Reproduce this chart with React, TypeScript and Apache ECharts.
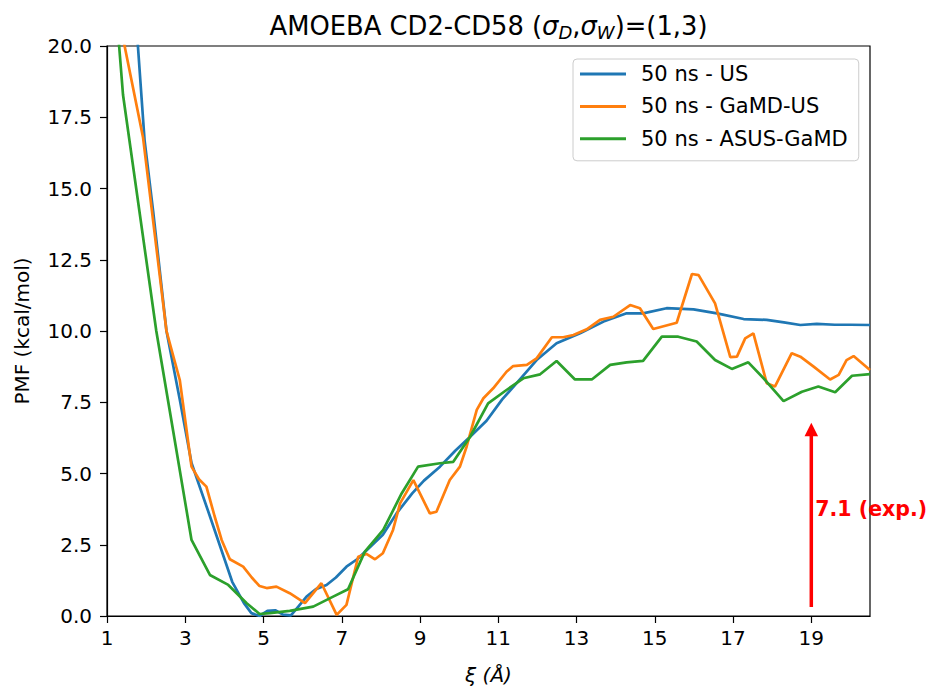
import React, { useEffect, useRef } from "react";
import * as echarts from "echarts";

// PMF profiles along the separation coordinate ξ (Å), kcal/mol
const usX = [1.7, 1.79, 1.96, 2.18, 2.52, 2.86, 3.16, 3.63, 4.2, 4.5, 4.69, 4.9, 5.1, 5.3, 5.5, 5.7, 5.9, 6.1, 6.35, 6.61, 6.85, 7.12, 7.4, 7.63, 8.05, 8.4, 8.8, 9.1, 9.51, 9.9, 10.28, 10.7, 11.1, 11.47, 11.98, 12.49, 13.09, 13.69, 14.28, 14.7, 15.3, 15.99, 16.59, 17.27, 17.86, 18.3, 18.72, 19.14, 19.6, 20.0, 20.5];
const usY = [21.75, 20.0, 16.7, 14.2, 10.0, 7.6, 5.37, 3.5, 1.2, 0.45, 0.1, 0.0, 0.18, 0.2, 0.05, 0.02, 0.35, 0.68, 0.95, 1.09, 1.35, 1.73, 2.0, 2.3, 2.85, 3.6, 4.3, 4.75, 5.24, 5.8, 6.29, 6.85, 7.6, 8.17, 8.98, 9.57, 9.92, 10.33, 10.62, 10.62, 10.8, 10.76, 10.62, 10.42, 10.39, 10.3, 10.21, 10.25, 10.22, 10.22, 10.21];

const gamdX = [1.25, 1.45, 1.92, 2.52, 2.86, 3.16, 3.35, 3.54, 3.75, 3.93, 4.14, 4.48, 4.7, 4.9, 5.08, 5.33, 5.67, 6.06, 6.48, 6.87, 7.12, 7.42, 7.63, 7.85, 8.05, 8.31, 8.49, 8.83, 9.25, 9.42, 9.76, 10.02, 10.19, 10.45, 10.62, 10.87, 11.21, 11.38, 11.73, 11.98, 12.37, 12.66, 12.92, 13.26, 13.6, 13.94, 14.37, 14.62, 14.96, 15.56, 15.95, 16.12, 16.54, 16.93, 17.1, 17.31, 17.52, 17.86, 18.07, 18.5, 18.72, 19.06, 19.48, 19.7, 19.9, 20.08, 20.5];
const gamdY = [21.4, 20.0, 16.8, 10.0, 8.28, 5.24, 4.8, 4.54, 3.5, 2.67, 1.99, 1.73, 1.35, 1.05, 0.98, 1.03, 0.8, 0.45, 1.15, 0.04, 0.39, 2.08, 2.18, 1.99, 2.2, 3.02, 3.95, 4.77, 3.6, 3.66, 4.77, 5.24, 5.94, 7.23, 7.64, 7.99, 8.57, 8.77, 8.81, 9.04, 9.78, 9.78, 9.86, 10.06, 10.39, 10.5, 10.91, 10.8, 10.07, 10.29, 12.0, 11.96, 10.97, 9.08, 9.1, 9.74, 9.92, 8.17, 8.05, 9.22, 9.1, 8.75, 8.3, 8.46, 8.98, 9.12, 8.63];

const asusX = [1.25, 1.31, 1.41, 2.26, 2.69, 3.16, 3.63, 4.1, 4.57, 4.9, 5.16, 5.67, 6.27, 6.78, 7.16, 7.59, 8.06, 8.53, 8.95, 9.51, 9.85, 10.28, 10.74, 11.21, 11.64, 12.07, 12.49, 12.96, 13.39, 13.86, 14.28, 14.7, 15.18, 15.6, 16.07, 16.54, 16.97, 17.39, 17.82, 18.29, 18.76, 19.18, 19.61, 20.04, 20.5];
const asusY = [21.0, 20.0, 18.28, 10.0, 6.5, 2.67, 1.44, 1.09, 0.45, 0.07, 0.1, 0.18, 0.33, 0.68, 0.94, 2.26, 3.02, 4.3, 5.24, 5.36, 5.41, 6.29, 7.46, 7.93, 8.34, 8.48, 8.95, 8.3, 8.3, 8.81, 8.9, 8.95, 9.8, 9.8, 9.63, 8.98, 8.67, 8.9, 8.28, 7.54, 7.87, 8.05, 7.85, 8.43, 8.49];

const seriesNames = ["50 ns - US", "50 ns - GaMD-US", "50 ns - ASUS-GaMD"];
const seriesColors = ["#1f77b4", "#ff7f0e", "#2ca02c"];

const xTickValues = [1, 3, 5, 7, 9, 11, 13, 15, 17, 19];
const xMin = 1;
const xMax = 20.5;
const yMin = 0;
const yMax = 20;
const yStep = 2.5;

// experimental reference value marked by the arrow
const expX = 19;
const expValue = 7.1;
const expLabel = "7.1 (exp.)";
const expLabelY = 3.75;

const FONT = "DejaVu Sans";

const pairs = (xs: number[], ys: number[]) => xs.map((x, i) => [x, ys[i]]);

export default function App() {
  const ref = useRef<HTMLDivElement>(null);

  useEffect(() => {
    if (!ref.current) return;
    const chart = echarts.init(ref.current, undefined, { renderer: "svg" });

    const data = [pairs(usX, usY), pairs(gamdX, gamdY), pairs(asusX, asusY)];

    chart.setOption({
      animation: false,
      backgroundColor: "#ffffff",
      grid: {
        left: 107,
        right: 62,
        top: 46,
        bottom: 71,
        show: true,
        borderColor: "#000000",
        borderWidth: 1.2,
        containLabel: false,
        outerBoundsMode: "none",
      },
      legend: {
        orient: "vertical",
        left: 573,
        top: 59,
        icon: "rect",
        itemWidth: 46,
        itemHeight: 3,
        itemGap: 8.4,
        padding: [3, 11, 10, 7],
        backgroundColor: "rgba(255,255,255,0.8)",
        borderColor: "#cccccc",
        borderWidth: 1,
        borderRadius: 4,
        textStyle: {
          fontFamily: FONT,
          fontSize: 21,
          color: "#000000",
          lineHeight: 24,
          padding: [0, 0, 0, 10],
        },
        data: seriesNames,
      },
      xAxis: {
        type: "value",
        min: xMin,
        max: xMax,
        name: "ξ (Å)",
        nameLocation: "middle",
        nameGap: 49,
        nameTextStyle: { fontFamily: FONT, fontSize: 20, fontStyle: "italic", color: "#000000" },
        axisLine: { show: true, onZero: false, lineStyle: { color: "#000000", width: 1.2 } },
        axisTick: { show: true, length: 7, customValues: xTickValues, lineStyle: { color: "#000000", width: 1.2 } },
        axisLabel: {
          customValues: xTickValues,
          margin: 12,
          fontFamily: FONT,
          fontSize: 20,
          color: "#000000",
        },
        splitLine: { show: false },
      },
      yAxis: {
        type: "value",
        min: yMin,
        max: yMax,
        interval: yStep,
        name: "PMF (kcal/mol)",
        nameLocation: "middle",
        nameGap: 75,
        nameTextStyle: { fontFamily: FONT, fontSize: 20, color: "#000000" },
        axisLine: { show: true, lineStyle: { color: "#000000", width: 1.2 } },
        axisTick: { show: true, length: 7, lineStyle: { color: "#000000", width: 1.2 } },
        axisLabel: {
          margin: 15,
          fontFamily: FONT,
          fontSize: 20,
          color: "#000000",
          formatter: (v: number) => v.toFixed(1),
        },
        splitLine: { show: false },
      },
      series: seriesNames.map((name, i) => ({
        name,
        type: "line",
        data: data[i],
        showSymbol: false,
        symbol: "none",
        clip: true,
        color: seriesColors[i],
        lineStyle: { color: seriesColors[i], width: 2.7 },
        emphasis: { disabled: true },
      })),
    });

    // title, arrow and annotation placed with the grid's own coordinate conversion
    const conv = (p: number[]) => chart.convertToPixel({ gridIndex: 0 }, p) as number[];
    const base = conv([expX, yMin]);
    const top = conv([expX, expValue]);
    const shrink = 0.045 * (base[1] - top[1]);
    const tailY = base[1] - shrink;
    const tipY = top[1] + shrink;
    const headH = 13.5;
    const headW = 13.5;
    const ax = base[0];
    const labelPos = conv([expX, expLabelY]);
    const plotLeft = conv([xMin, yMax]);
    const plotRight = conv([xMax, yMax]);

    chart.setOption({
      graphic: [
        {
          type: "text",
          x: (plotLeft[0] + plotRight[0]) / 2,
          y: 26,
          style: {
            text: "{n|AMOEBA CD2-CD58 (}{m|σ}{s|D}{n|,}{m|σ}{s|W}{n|)=(1,3)}",
            align: "center",
            verticalAlign: "middle",
            rich: {
              n: { fontFamily: FONT, fontSize: 25.8, lineHeight: 31, fill: "#000000" },
              m: { fontFamily: FONT, fontSize: 25.8, lineHeight: 31, fontStyle: "italic", fill: "#000000" },
              s: { fontFamily: FONT, fontSize: 18, lineHeight: 18, fontStyle: "italic", verticalAlign: "bottom", fill: "#000000" },
            },
          },
        },
        {
          type: "line",
          shape: { x1: ax, y1: tailY, x2: ax, y2: tipY + headH - 1 },
          style: { stroke: "#ff0000", lineWidth: 3.5 },
          z: 100,
        },
        {
          type: "polygon",
          shape: {
            points: [
              [ax, tipY],
              [ax - headW / 2, tipY + headH],
              [ax + headW / 2, tipY + headH],
            ],
          },
          style: { fill: "#ff0000" },
          z: 100,
        },
        {
          type: "text",
          x: labelPos[0] + 4,
          y: labelPos[1],
          style: {
            text: expLabel,
            fontFamily: FONT,
            fontSize: 20.5,
            fontWeight: "bold",
            fill: "#ff0000",
            align: "left",
            verticalAlign: "middle",
          },
          z: 100,
        },
      ],
    });

    return () => chart.dispose();
  }, []);

  return (
    <div
      ref={ref}
      style={{ position: "fixed", left: 0, top: 0, width: 932, height: 687, background: "#ffffff" }}
    />
  );
}
